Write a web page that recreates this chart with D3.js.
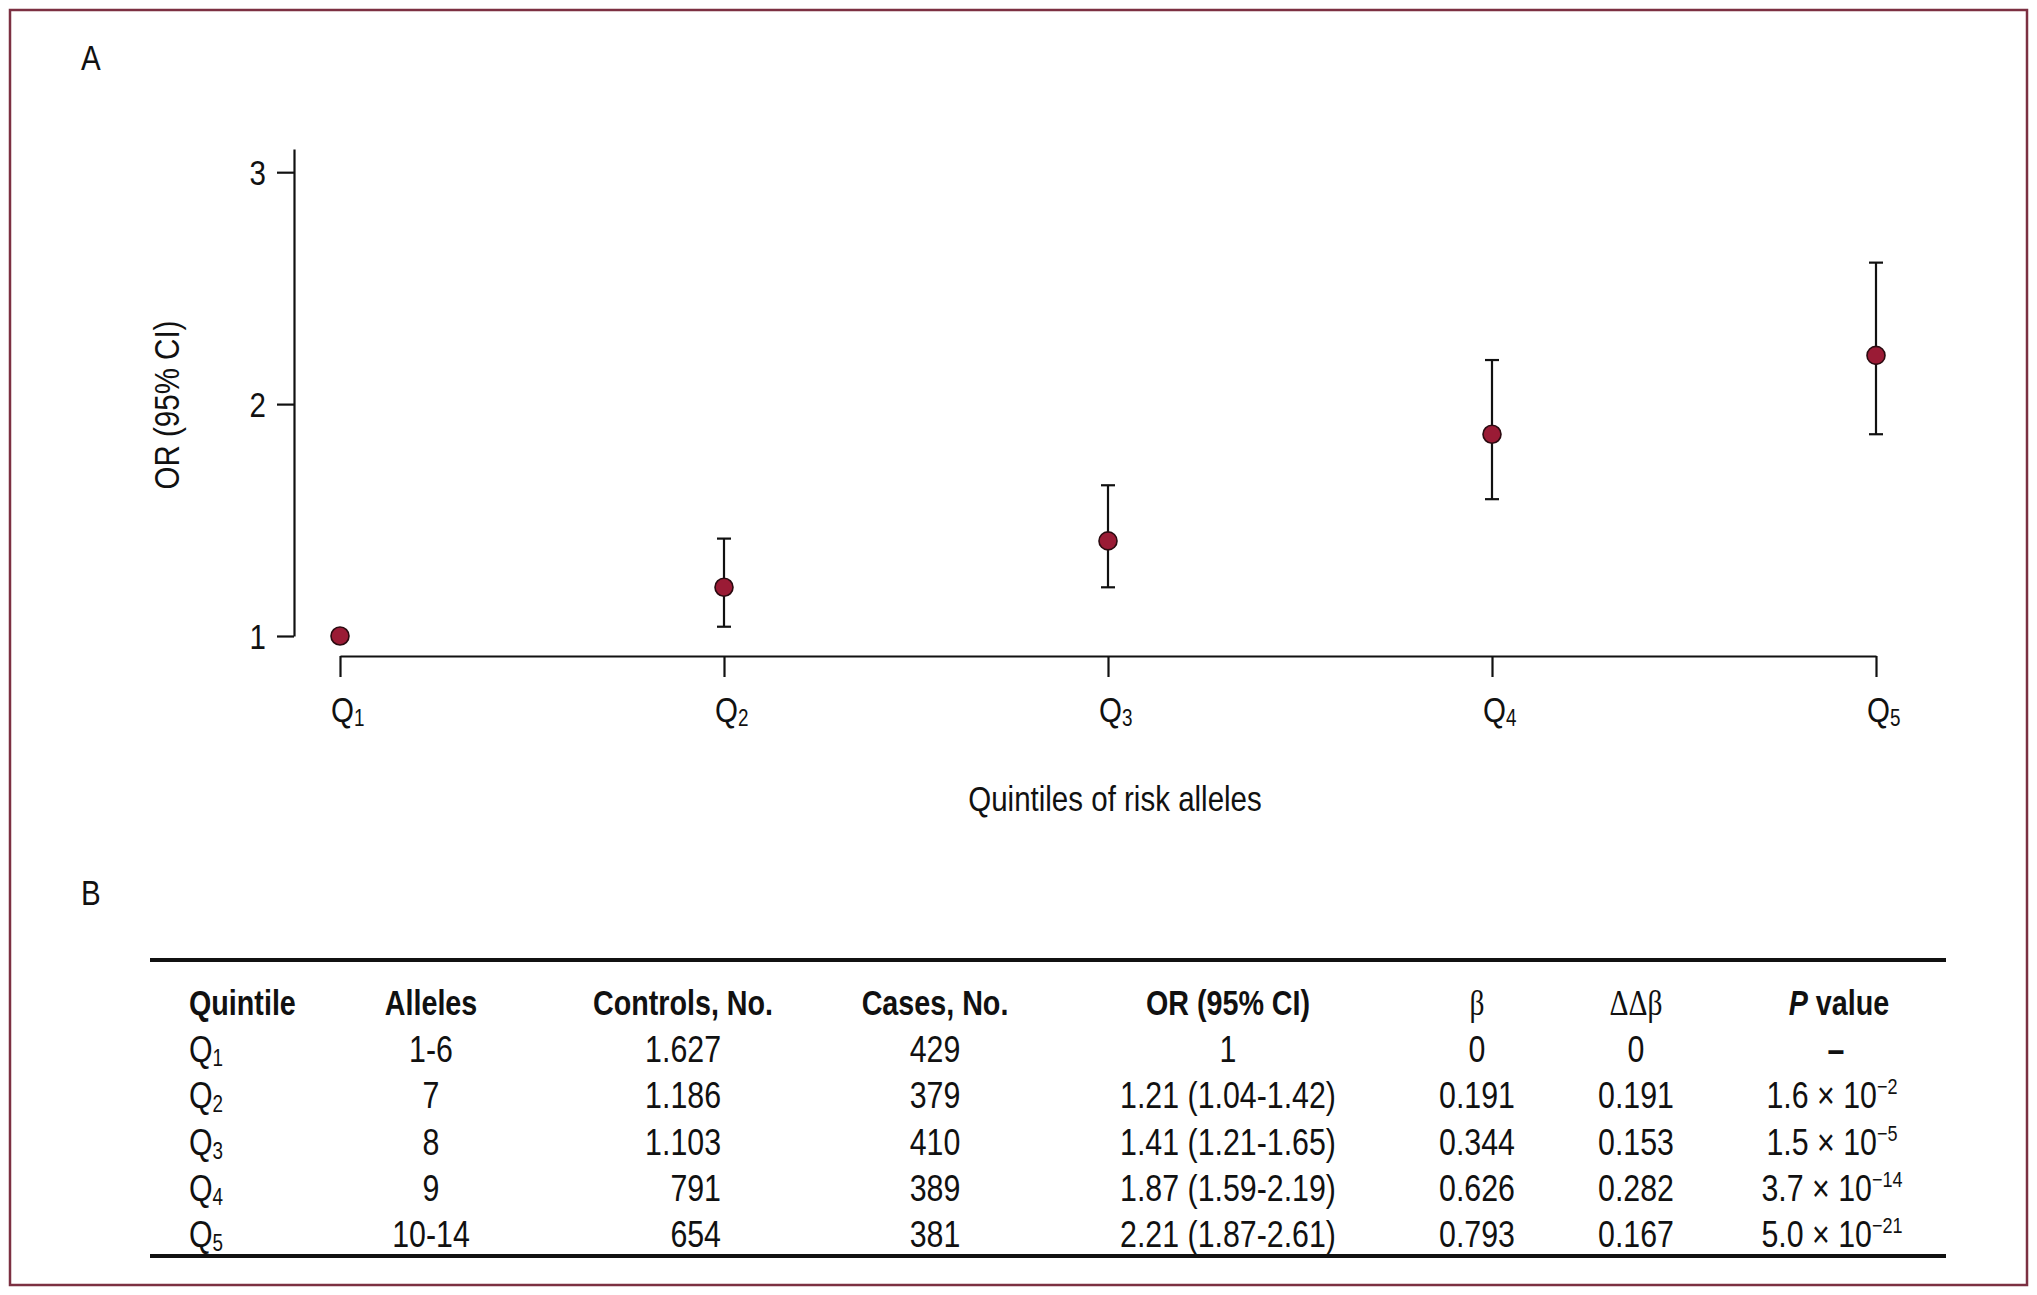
<!DOCTYPE html>
<html>
<head>
<meta charset="utf-8">
<script src="https://cdn.jsdelivr.net/npm/d3@7"></script>
<style>
body { margin: 0; background: #fff; }
text { font-family: "Liberation Sans", Arial, sans-serif; fill: #111; }
.axis path, .axis line { stroke: #111; stroke-width: 2.2; }
</style>
</head>
<body>
<svg id="thesvg" width="2037" height="1295"></svg>
<script>
var quintiles = ["1", "2", "3", "4", "5"];
var or = [1, 1.21, 1.41, 1.87, 2.21];
var lo = [1, 1.04, 1.21, 1.59, 1.87];
var hi = [1, 1.42, 1.65, 2.19, 2.61];
var yticks = [1, 2, 3];

var alleles = ["1-6", "7", "8", "9", "10-14"];
var controls = ["1.627", "1.186", "1.103", "791", "654"];
var cases = ["429", "379", "410", "389", "381"];
var orText = ["1", "1.21 (1.04-1.42)", "1.41 (1.21-1.65)", "1.87 (1.59-2.19)", "2.21 (1.87-2.61)"];
var beta = ["0", "0.191", "0.344", "0.626", "0.793"];
var ddbeta = ["0", "0.191", "0.153", "0.282", "0.167"];
var pMant = ["", "1.6", "1.5", "3.7", "5.0"];
var pExp = ["", "\u22122", "\u22125", "\u221214", "\u221221"];

var svg = d3.select("#thesvg");
var W = 2037, H = 1295;
var fs = 36;
var sx = 0.82;   // fake a condensed face

// narrow text helper
function ntext(x, y, size, anchor, extra) {
    return svg.append("text")
        .attr("transform", "translate(" + x + "," + y + ")" + (extra || "") + " scale(" + sx + ",1)")
        .attr("text-anchor", anchor || "start")
        .style("font-size", size + "px");
}

// frame
svg.append("rect")
    .attr("x", 10).attr("y", 10)
    .attr("width", W - 20).attr("height", H - 20)
    .attr("fill", "none")
    .attr("stroke", "#7c3042")
    .attr("stroke-width", 2.5);

ntext(81, 70, fs).text("A");
ntext(81, 905, fs).text("B");

// ---- panel A ----
var xScale = d3.scalePoint().domain(quintiles).range([340, 1876]);
var yScale = d3.scaleLinear().domain([1, 3.1]).range([636, 149]);

var yAxis = d3.axisLeft(yScale).tickValues(yticks).tickSize(17).tickSizeOuter(0).tickFormat("");
svg.append("g")
    .attr("class", "axis")
    .attr("transform", "translate(294,0)")
    .call(yAxis);

yticks.forEach(function(v) {
    ntext(266, yScale(v) + 13, fs, "end").text(d3.format("d")(v));
});

var xAxis = d3.axisBottom(xScale).tickSize(21).tickSizeOuter(0).tickFormat("");
svg.append("g")
    .attr("class", "axis")
    .attr("transform", "translate(0,656)")
    .call(xAxis);

quintiles.forEach(function(q) {
    var t = ntext(xScale(q) - 9, 722, fs);
    t.append("tspan").text("Q");
    t.append("tspan").attr("dy", 4).style("font-size", "23px").text(q);
});

ntext(1115, 811, fs, "middle").text("Quintiles of risk alleles");

ntext(179, 405, fs, "middle", " rotate(-90)").text("OR (95% CI)");

// error bars
for (let j = 1; j < quintiles.length; j++) {
    var cx = xScale(quintiles[j]);
    svg.append("line")
        .attr("x1", cx).attr("x2", cx)
        .attr("y1", yScale(lo[j])).attr("y2", yScale(hi[j]))
        .attr("stroke", "#111").attr("stroke-width", 2.2);
    [lo[j], hi[j]].forEach(function(v) {
        svg.append("line")
            .attr("x1", cx - 7).attr("x2", cx + 7)
            .attr("y1", yScale(v)).attr("y2", yScale(v))
            .attr("stroke", "#111").attr("stroke-width", 2.2);
    });
}

svg.selectAll(".pt")
    .data(or)
    .enter().append("circle")
    .attr("class", "pt")
    .attr("cx", function(d, i) { return xScale(quintiles[i]); })
    .attr("cy", function(d) { return yScale(d); })
    .attr("r", 9)
    .attr("fill", "#9a1b35")
    .attr("stroke", "#2a0a10")
    .attr("stroke-width", 1.6);

// ---- panel B table ----
var tx0 = 150, tx1 = 1946;
svg.append("line").attr("x1", tx0).attr("x2", tx1).attr("y1", 960).attr("y2", 960)
    .attr("stroke", "#111").attr("stroke-width", 4);
svg.append("line").attr("x1", tx0).attr("x2", tx1).attr("y1", 1256).attr("y2", 1256)
    .attr("stroke", "#111").attr("stroke-width", 4);

var headY = 1015;
var rowY = d3.scaleLinear().domain([0, 4]).range([1062, 1247]);
var tfs = 37;

function head(x, txt, anchor) {
    return ntext(x, headY, 35, anchor || "middle")
        .style("font-weight", "bold")
        .text(txt);
}
head(189, "Quintile", "start");
head(431, "Alleles");
head(683, "Controls, No.");
head(935, "Cases, No.");
head(1228, "OR (95% CI)");
ntext(1477, headY, 36, "middle").style("font-family", "Liberation Serif, serif").text("\u03b2");
ntext(1636, headY, 36, "middle").style("font-family", "Liberation Serif, serif").text("\u0394\u0394\u03b2");
var ph = ntext(1839, headY, 35, "middle").style("font-weight", "bold");
ph.append("tspan").style("font-style", "italic").text("P");
ph.append("tspan").text(" value");

function cell(x, i, txt, anchor) {
    return ntext(x, rowY(i), tfs, anchor || "middle").text(txt);
}

for (let i = 0; i < quintiles.length; i++) {
    var q = ntext(189, rowY(i), tfs);
    q.append("tspan").text("Q");
    q.append("tspan").attr("dy", 4).style("font-size", "23px").text(quintiles[i]);
    cell(431, i, alleles[i]);
    cell(721, i, controls[i], "end");
    cell(935, i, cases[i]);
    cell(1228, i, orText[i]);
    cell(1477, i, beta[i]);
    cell(1636, i, ddbeta[i]);
    if (i == 0) {
        cell(1836, i, "\u2013").style("font-weight", "bold");
    } else {
        var p = ntext(1832, rowY(i), tfs, "middle");
        p.append("tspan").text(pMant[i] + " \u00d7 10");
        p.append("tspan").attr("dy", -14).style("font-size", "22px").text(pExp[i]);
    }
}
</script>
</body>
</html>
